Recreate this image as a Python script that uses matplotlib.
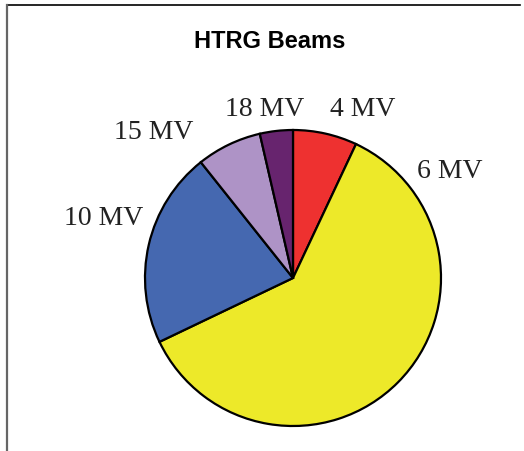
import numpy as np
import matplotlib
matplotlib.use("Agg")
import matplotlib.pyplot as plt
from matplotlib.lines import Line2D

# beam share, clockwise from 12 o'clock
labels = ["4 MV", "6 MV", "10 MV", "15 MV", "18 MV"]
shares = [7.0, 60.9, 21.4, 7.1, 3.6]
colors = ["#EE3130", "#EDE929", "#4568B0", "#AE93C6", "#67246E"]

# label centres in pie-radius units
label_pos = [(0.47, 1.14), (1.06, 0.72), (-1.28, 0.40), (-0.94, 0.98), (-0.19, 1.14)]

W, H = 524, 451
cx, cy, r = 293, 278, 148

fig = plt.figure(figsize=(W / 100, H / 100), dpi=100)
ax = fig.add_axes([0, 0, 1, 1])
ax.pie(shares, colors=colors, startangle=90, counterclock=False, radius=1,
       wedgeprops=dict(edgecolor="black", linewidth=1.6))
ax.set_xlim(-cx / r, (W - cx) / r)
ax.set_ylim((cy - H) / r, cy / r)
ax.set_aspect("auto")
ax.axis("off")

for lab, (x, y) in zip(labels, label_pos):
    ax.text(x, y, lab, ha="center", va="center", fontsize=20,
            family="Liberation Serif", color="#222222")

fig.text(270 / W, 1 - 42 / H, "HTRG Beams", ha="center", va="center",
         fontsize=17, fontweight="bold", family="Liberation Sans")

# frame: top and left edges only
fig.add_artist(Line2D([7 / W, 520 / W], [1 - 5 / H, 1 - 5 / H], color="black", lw=1.2))
fig.add_artist(Line2D([7 / W, 7 / W], [1 - 5 / H, 0], color="#666666", lw=1.6))

fig.savefig("out.png", dpi=100)
